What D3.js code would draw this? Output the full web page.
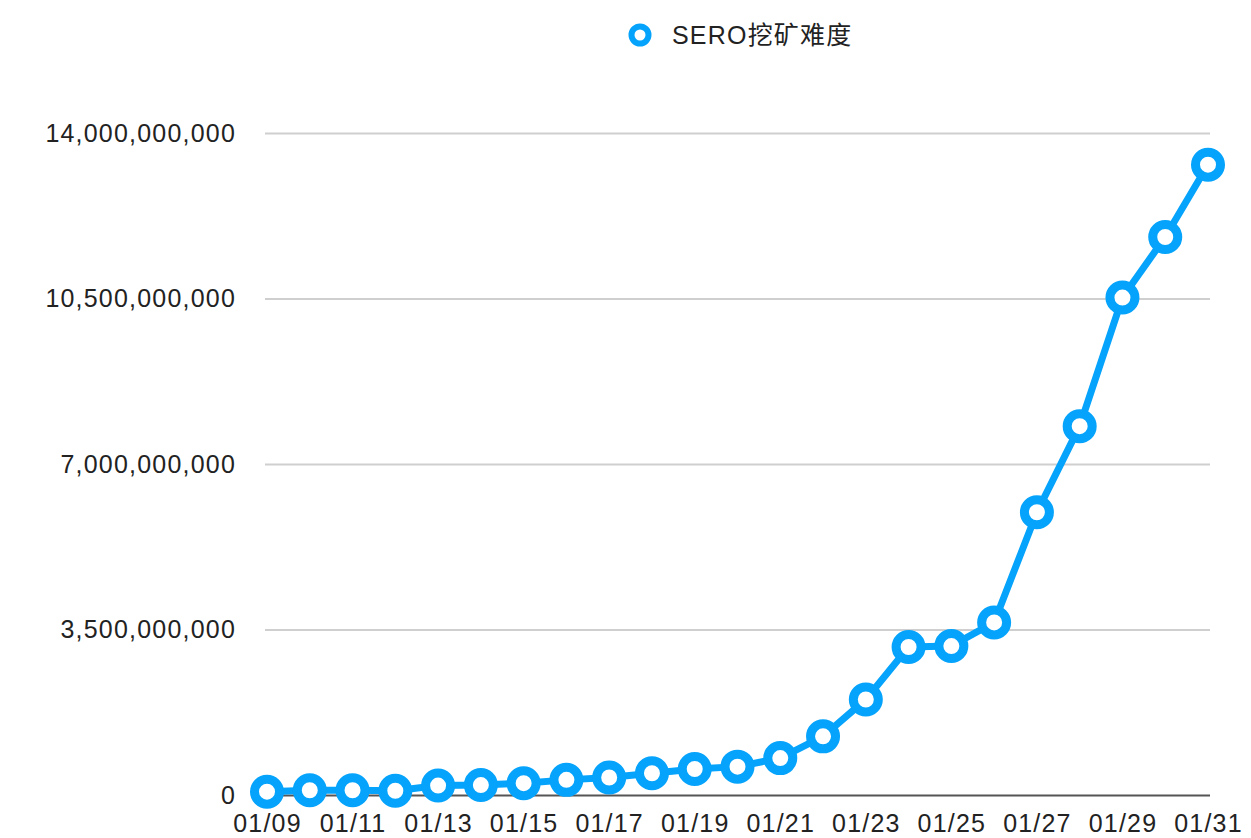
<!DOCTYPE html>
<html>
<head>
<meta charset="utf-8">
<script src="https://cdn.jsdelivr.net/npm/d3@7"></script>
<style>
  body { margin: 0; background: #fff; }
  svg text { font-family: "Liberation Sans", Arial, "Noto Sans CJK SC", sans-serif; fill: #222; }
</style>
</head>
<body>
<div id="chart"></div>
<script>
// Data
var dates = ["01/09","01/10","01/11","01/12","01/13","01/14","01/15","01/16",
             "01/17","01/18","01/19","01/20","01/21","01/22","01/23","01/24",
             "01/25","01/26","01/27","01/28","01/29","01/30","01/31"];
var difficulty = [0.07e9, 0.10e9, 0.10e9, 0.09e9, 0.20e9, 0.21e9, 0.25e9, 0.32e9,
                  0.37e9, 0.46e9, 0.55e9, 0.60e9, 0.78e9, 1.24e9, 2.02e9, 3.13e9,
                  3.15e9, 3.65e9, 5.98e9, 7.80e9, 10.52e9, 11.80e9, 13.33e9];
var yTicks = [0, 3500000000, 7000000000, 10500000000, 14000000000];
var xTickLabels = ["01/09","01/11","01/13","01/15","01/17","01/19","01/21",
                   "01/23","01/25","01/27","01/29","01/31"];
var seriesName = "SERO挖矿难度";

var width = 1251;
var height = 838;
var blue = "#05a3fb";

var svg = d3.select("#chart").append("svg")
    .attr("width", width)
    .attr("height", height);

var x = d3.scalePoint()
    .domain(dates)
    .range([267, 1208]);

var y = d3.scaleLinear()
    .domain([0, 14000000000])
    .range([795, 133]);

// gridlines + y labels
var yAxis = svg.append("g")
    .attr("transform", "translate(265,0)")
    .call(d3.axisLeft(y)
      .tickValues(yTicks)
      .tickSize(-945)
      .tickPadding(29)
      .tickFormat(d3.format(",")));
yAxis.select(".domain").remove();
yAxis.selectAll(".tick line")
    .attr("stroke", function(d) { return d == 0 ? "#555" : "#cfcfcf"; })
    .attr("stroke-width", 2);
yAxis.selectAll(".tick text")
    .style("font-size", "25px")
    .style("letter-spacing", "1.2px")
    .attr("fill", "#222");

// x labels
var xAxis = svg.append("g")
    .attr("transform", "translate(0,795)")
    .call(d3.axisBottom(x)
      .tickValues(xTickLabels)
      .tickSize(0)
      .tickPadding(19));
xAxis.select(".domain").remove();
xAxis.selectAll(".tick text")
    .style("font-size", "25px")
    .style("letter-spacing", "1.2px")
    .attr("fill", "#222");

// line
var line = d3.line()
    .x(function(d, i) { return x(dates[i]); })
    .y(function(d) { return y(d); });

svg.append("path")
    .datum(difficulty)
    .attr("d", line)
    .attr("fill", "none")
    .attr("stroke", blue)
    .attr("stroke-width", 7)
    .attr("stroke-linejoin", "round");

svg.selectAll("circle.pt")
    .data(difficulty)
  .enter().append("circle")
    .attr("class", "pt")
    .attr("cx", function(d, i) { return x(dates[i]); })
    .attr("cy", function(d) { return y(d); })
    .attr("r", 12.5)
    .attr("fill", "#fff")
    .attr("stroke", blue)
    .attr("stroke-width", 9);

// legend
var legend = svg.append("g").attr("transform", "translate(640,35)");
legend.append("circle")
    .attr("r", 8.5)
    .attr("fill", "#fff")
    .attr("stroke", blue)
    .attr("stroke-width", 6);
legend.append("text")
    .attr("x", 32)
    .attr("dy", "0.35em")
    .style("font-size", "25px")
    .style("letter-spacing", "1.2px")
    .text(seriesName);
</script>
</body>
</html>
